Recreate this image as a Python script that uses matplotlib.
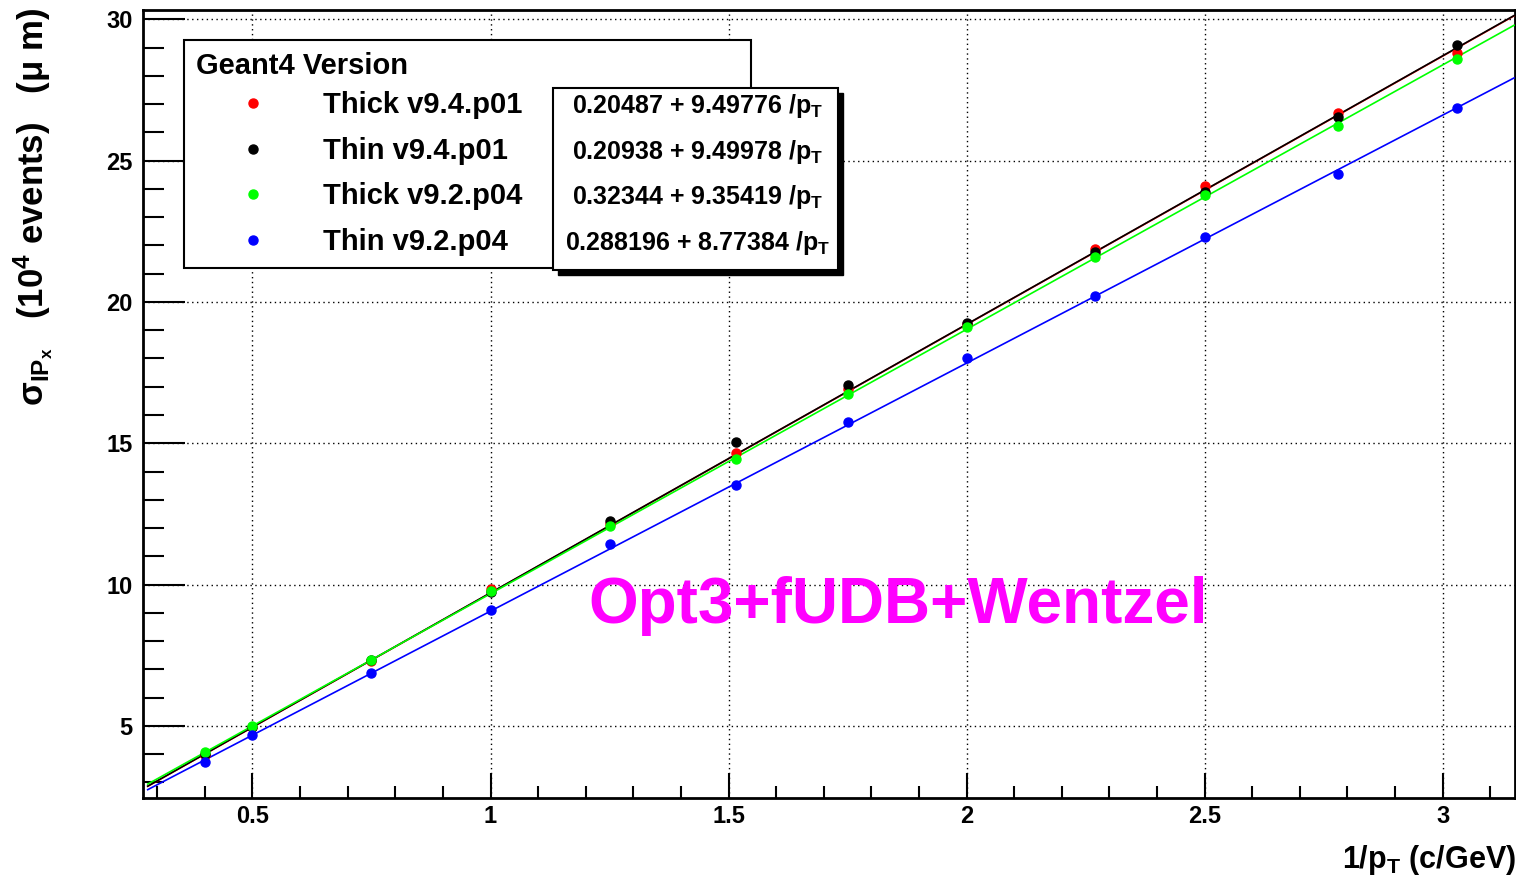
import numpy as np
import matplotlib
matplotlib.use("Agg")
import matplotlib.pyplot as plt
from matplotlib.lines import Line2D
from matplotlib.patches import Rectangle
from matplotlib.ticker import MultipleLocator, FuncFormatter

# ---------------- data ----------------
inv_pt = [0.4, 0.5, 0.75, 1.0, 1.25, 1.515, 1.75, 2.0, 2.27, 2.5, 2.78, 3.03]
thick_v94 = [3.98, 4.95, 7.30, 9.85, 12.15, 14.65, 16.92, 19.22, 21.86, 24.12, 26.70, 28.82]
thin_v94 = [4.00, 4.96, 7.32, 9.75, 12.26, 15.04, 17.05, 19.27, 21.78, 23.90, 26.53, 29.09]
thick_v92 = [4.06, 5.00, 7.34, 9.78, 12.09, 14.45, 16.73, 19.13, 21.60, 23.79, 26.24, 28.59]
thin_v92 = [3.74, 4.68, 6.87, 9.10, 11.43, 13.52, 15.77, 18.00, 20.21, 22.31, 24.53, 26.87]

series_labels = ["Thick v9.4.p01", "Thin v9.4.p01", "Thick v9.2.p04", "Thin v9.2.p04"]
series_colors = ["#ff0000", "#000000", "#00ff00", "#0000ff"]
fit_const = [0.20487, 0.20938, 0.32344, 0.288196]
fit_slope = [9.49776, 9.49978, 9.35419, 8.77384]
fit_range = [0.28, 3.15]

legend_title = "Geant4 Version"
x_title = "1/p$_{\\mathregular{T}}$ (c/GeV)"
y_title = "σ$_{\\mathregular{IP}_{\\mathregular{x}}}$   (10$^{\\mathregular{4}}$ events)   (μ m)"
annotation = "Opt3+fUDB+Wentzel"

# ---------------- fonts ----------------
plt.rcParams["font.family"] = ["Liberation Sans", "DejaVu Sans"]
plt.rcParams["font.weight"] = "bold"
plt.rcParams["mathtext.fontset"] = "custom"
plt.rcParams["mathtext.rm"] = "Liberation Sans:bold"
plt.rcParams["mathtext.it"] = "Liberation Sans:bold"
plt.rcParams["mathtext.bf"] = "Liberation Sans:bold"

W, H = 1516, 881
fig = plt.figure(figsize=(W / 100, H / 100), dpi=100)
fig.patch.set_facecolor("white")

def fx(px):
    return px / W

def fy(py):
    return 1 - py / H

ax = fig.add_axes([fx(142.5), fy(798), fx(1515) - fx(142.5), fy(10) - fy(798)])
ax.set_xlim(0.269, 3.152)
ax.set_ylim(2.45, 30.33)

# grid
ax.grid(True, which="major", linestyle=(0, (1, 2.5)), color="black", linewidth=1.0)
ax.set_axisbelow(True)

# fit lines
datasets = [thick_v94, thin_v94, thick_v92, thin_v92]
xr = np.array(fit_range)
for a, b, c in zip(fit_const, fit_slope, series_colors):
    ax.plot(xr, a + b * xr, color=c, lw=1.2, zorder=3)

# points
handles = []
for ys, c, lab in zip(datasets, series_colors, series_labels):
    ax.plot(inv_pt, ys, linestyle="none", marker="o", ms=6.5, color=c, zorder=4)
    handles.append(Line2D([], [], linestyle="none", marker="o", ms=6.5, color=c, label=lab))

# ticks
ax.xaxis.set_major_locator(MultipleLocator(0.5))
ax.xaxis.set_minor_locator(MultipleLocator(0.1))
ax.yaxis.set_major_locator(MultipleLocator(5))
ax.yaxis.set_minor_locator(MultipleLocator(1))
ax.tick_params(axis="x", which="major", direction="in", length=18, width=1.5, labelsize=17, pad=5)
ax.tick_params(axis="x", which="minor", direction="in", length=9, width=1.5)
ax.tick_params(axis="y", which="major", direction="in", length=30, width=1.5, labelsize=17, pad=7)
ax.tick_params(axis="y", which="minor", direction="in", length=15, width=1.5)
ax.xaxis.set_major_formatter(FuncFormatter(lambda v, p: f"{v:g}"))
ax.yaxis.set_major_formatter(FuncFormatter(lambda v, p: f"{v:g}"))
for lab in ax.get_xticklabels() + ax.get_yticklabels():
    lab.set_fontweight("bold")
for s in ax.spines.values():
    s.set_linewidth(2)

# axis titles
fig.text(fx(1516), fy(868), x_title, ha="right", va="baseline", fontsize=22, fontweight="bold")
fig.text(fx(34), fy(8), y_title, ha="center", va="top", rotation=90, fontsize=25, fontweight="bold")

# legend
leg = ax.legend(handles=handles, title=legend_title, loc="upper left",
                bbox_to_anchor=(fx(184), fy(265), fx(751) - fx(184), fy(40) - fy(265)),
                bbox_transform=fig.transFigure, mode="expand", borderaxespad=0,
                fontsize=21, title_fontproperties={"size": 21, "weight": "bold"},
                frameon=True, fancybox=False, edgecolor="black", framealpha=1,
                borderpad=0.42, handlelength=3.9, handletextpad=0.45, labelspacing=0.6,
                alignment="left")
leg._legend_box.sep = 0.38 * 21
leg.get_frame().set_linewidth(1.5)
leg.set_zorder(6)

# fit-parameter box with shadow
fig.patches.append(Rectangle((fx(558), fy(275)), fx(843) - fx(558), fy(93) - fy(275),
                             transform=fig.transFigure, facecolor="black", edgecolor="black", zorder=7))
fig.patches.append(Rectangle((fx(553), fy(270)), fx(838) - fx(553), fy(88) - fy(270),
                             transform=fig.transFigure, facecolor="white", edgecolor="black",
                             lw=1.5, zorder=8))
fit_rows_y = [106, 152, 197, 243]
for a, b, py in zip(fit_const, fit_slope, fit_rows_y):
    fig.text(fx(698), fy(py), f"{a:g} + {b:g} /p$_{{\\mathregular{{T}}}}$", ha="center", va="center",
             fontsize=18, fontweight="bold", zorder=9)

# annotation
ax.text(1.205, 8.65, annotation, color="#ff00ff", fontsize=46, fontweight="bold",
        ha="left", va="baseline", zorder=5)

fig.savefig("out.png", dpi=100)
